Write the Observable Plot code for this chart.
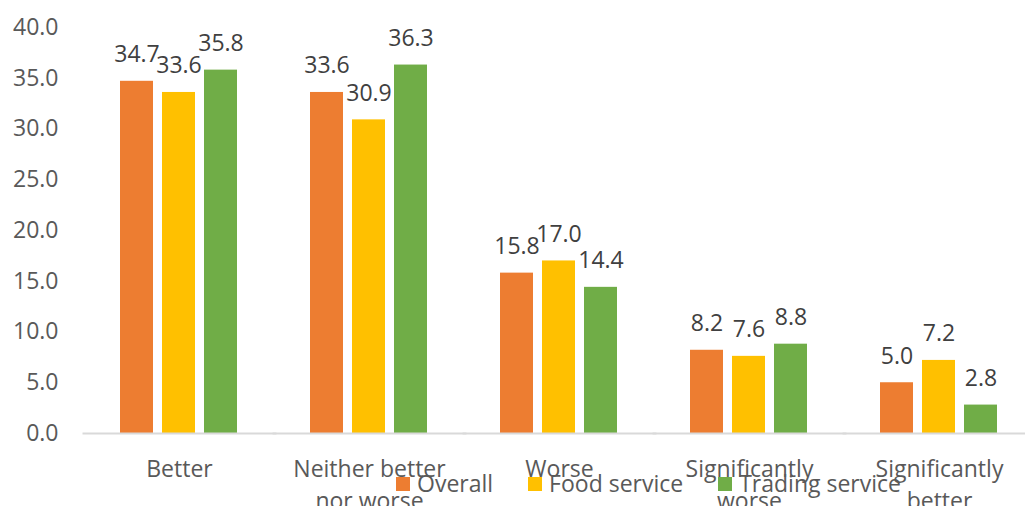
<!DOCTYPE html>
<html>
<head>
<meta charset="utf-8">
<script src="https://cdn.jsdelivr.net/npm/d3@7"></script>
<script src="https://cdn.jsdelivr.net/npm/@observablehq/plot@0.6"></script>
<style>
  html, body { margin: 0; padding: 0; background: #fff; }
  #wrap { position: relative; width: 1025px; height: 506px; overflow: hidden; font-family: "Open Sans", sans-serif; }
  #legend { position: absolute; left: 396px; top: 467px; display: flex; align-items: center; font-size: 23px; color: #595959; white-space: nowrap; }
  #legend .item { display: flex; align-items: center; margin-right: 35px; }
  #legend .sw { width: 14px; height: 14px; margin-right: 7px; margin-top: 2px; }
</style>
</head>
<body>
<div id="wrap"><div id="legend"></div></div>
<script>
const categories = ["Better", "Neither better nor worse", "Worse", "Significantly worse", "Significantly better"];
const categoryLabels = ["Better", "Neither better\nnor worse", "Worse", "Significantly\nworse", "Significantly\nbetter"];
const series = ["Overall", "Food service", "Trading service"];
const colors = ["#ED7D31", "#FFC000", "#70AD47"];
const overall = [34.7, 33.6, 15.8, 8.2, 5.0];
const foodService = [33.6, 30.9, 17.0, 7.6, 7.2];
const tradingService = [35.8, 36.3, 14.4, 8.8, 2.8];
const yTicks = [0, 5, 10, 15, 20, 25, 30, 35, 40];

const valuesBySeries = [overall, foodService, tradingService];
const data = [];
categories.forEach((c, i) => {
  series.forEach((s, j) => data.push({category: c, series: s, value: valuesBySeries[j][i]}));
});
const labelOf = new Map(categories.map((c, i) => [c, categoryLabels[i]]));

const chart = Plot.plot({
  width: 1025,
  height: 506,
  marginLeft: 83,
  marginRight: 3,
  marginTop: 27,
  marginBottom: 73,
  style: {fontFamily: "'Open Sans', sans-serif", fontSize: "23px", color: "#595959", background: "#fff"},
  fx: {domain: categories, range: [83, 1034], paddingInner: 0.38, paddingOuter: 0.19},
  x: {domain: series, paddingInner: 0.21, paddingOuter: 0, axis: null},
  y: {domain: [0, 40]},
  color: {domain: series, range: colors},
  marks: [
    Plot.axisY({ticks: yTicks, tickFormat: d => d.toFixed(1), tickSize: 0, tickPadding: 62, fontSize: 23, fill: "#595959", label: null}),
    Plot.axisFx({anchor: "bottom", tickSize: 0, tickPadding: 20, fontSize: 23, fill: "#595959", lineHeight: 1.42, tickFormat: d => labelOf.get(d), label: null}),
    Plot.barY(data, {fx: "category", x: "series", y: "value", fill: "series"}),
    Plot.frame({anchor: "bottom", stroke: "#d9d9d9", strokeWidth: 2, insetLeft: -37, insetRight: -37}),
    Plot.text(data, {fx: "category", x: "series", y: "value", text: d => d.value.toFixed(1), lineAnchor: "bottom", dy: -19, fontSize: 23, fill: "#404040"})
  ]
});
const wrap = document.getElementById("wrap");
wrap.insertBefore(chart, wrap.firstChild);

const legend = document.getElementById("legend");
series.forEach((s, i) => {
  const item = document.createElement("div");
  item.className = "item";
  const sw = document.createElement("span");
  sw.className = "sw";
  sw.style.background = colors[i];
  const t = document.createElement("span");
  t.textContent = s;
  item.appendChild(sw);
  item.appendChild(t);
  legend.appendChild(item);
});
</script>
</body>
</html>
